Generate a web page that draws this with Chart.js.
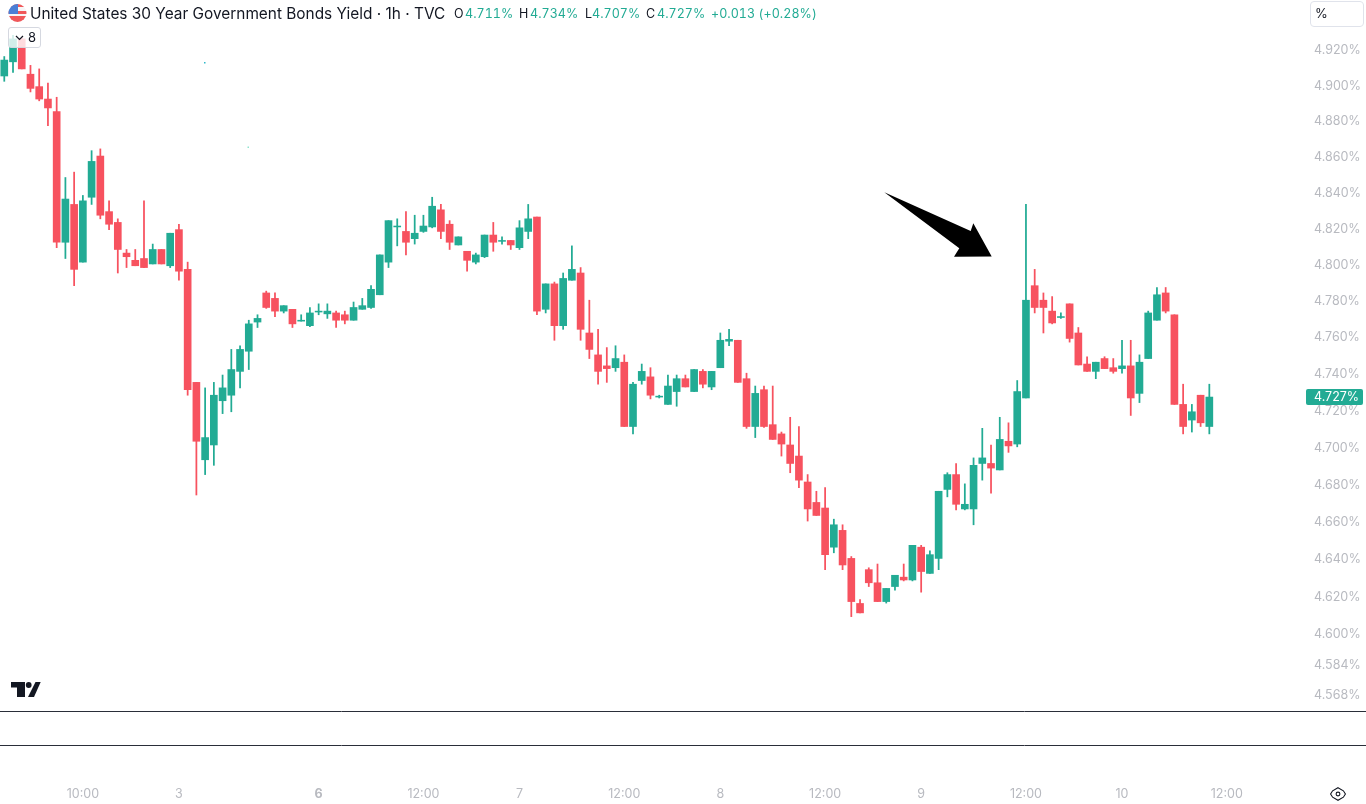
<!DOCTYPE html>
<html>
<head>
<meta charset="utf-8">
<title>US30Y</title>
<script src="https://cdn.jsdelivr.net/npm/chart.js@4/dist/chart.umd.min.js"></script>
<style>
  html, body { margin: 0; padding: 0; background: #fff; overflow: hidden; }
  #wrap { position: relative; width: 1366px; height: 804px; font-family: Inter, "Noto Sans", sans-serif; }
  #chart { position: absolute; left: 0; top: 0; }
  .txt { position: absolute; white-space: nowrap; line-height: 18px; }
  .title { left: 30px; top: 5px; font-size: 15.4px; color: #131722; }
  .ohlc { top: 5px; font-size: 12.5px; letter-spacing: 0.05px; color: #22ab94; font-variant-numeric: tabular-nums; }
  .dark { color: #131722; }
  .unit { position: absolute; left: 1310px; top: 1px; width: 52px; height: 24px; border: 1px solid #e0e3eb; border-radius: 4px; }
  .unit span { position: absolute; left: 4px; top: 3px; font-size: 13px; color: #131722; }
  .count { position: absolute; left: 8px; top: 27px; width: 31px; height: 19px; border: 1px solid #d5d8e0; border-radius: 3px; background: rgba(255,255,255,.8); }
  .count span { position: absolute; left: 19px; top: 1px; font-size: 13px; color: #131722; }
  svg.over { position: absolute; left: 0; top: 0; pointer-events: none; }
</style>
</head>
<body>
<div id="wrap">
  <canvas id="chart" width="1366" height="804"></canvas>
  <svg class="over" width="1366" height="804">
    <defs><clipPath id="fc"><circle cx="17.5" cy="13" r="9"/></clipPath></defs>
    <g clip-path="url(#fc)">
      <rect x="8" y="4" width="19" height="18" fill="#f7f7f7"/>
      <rect x="8" y="11" width="19" height="3" fill="#f0585a"/>
      <rect x="8" y="16" width="19" height="3" fill="#f0585a"/>
      <rect x="8" y="19" width="19" height="3" fill="#f0585a"/>
      <rect x="8" y="4" width="19" height="3" fill="#f0585a"/>
      <rect x="8" y="4" width="10" height="10" fill="#4a7fd6"/>
    </g>
    <polygon points="884.3,192.3 970.7,231 973.3,223.3 991.7,256.5 954,256.7 959.3,248.3" fill="#000"/>
    <rect x="204" y="62" width="1.5" height="1.5" fill="#2fb8c9"/>
    <rect x="247.5" y="146.5" width="1.5" height="1.5" fill="#8fe3cf"/>
    <g fill="#131722">
      <path d="M11 682H25V697H17V687.5H11Z"/>
      <circle cx="28.7" cy="685" r="2.9"/>
      <path d="M35.5 682H40.7L34 697H28Z"/>
    </g>
    <g fill="none" stroke="#131722" stroke-width="1.1">
      <path d="M1338 787.7L1343.4 790.8L1345.4 794L1343.4 797.2L1338 800.3L1332.6 797.2L1330.6 794L1332.6 790.8Z"/>
      <circle cx="1338" cy="794" r="1.9"/>
    </g>
  </svg>
  <div class="txt title">United States 30 Year Government Bonds Yield · 1h · TVC</div>
  <div class="txt ohlc dark" style="left:454px">O</div><div class="txt ohlc" style="left:465px">4.711%</div>
  <div class="txt ohlc dark" style="left:519px">H</div><div class="txt ohlc" style="left:530px">4.734%</div>
  <div class="txt ohlc dark" style="left:585px">L</div><div class="txt ohlc" style="left:592px">4.707%</div>
  <div class="txt ohlc dark" style="left:646px">C</div><div class="txt ohlc" style="left:657px">4.727%</div>
  <div class="txt ohlc" style="left:711px">+0.013 (+0.28%)</div>
  <div class="unit"><span>%</span></div>
  <div class="count">
    <svg width="12" height="12" style="position:absolute;left:5px;top:4px"><path d="M2 4L5.5 7.5L9 4" fill="none" stroke="#131722" stroke-width="1.2"/></svg>
    <span>8</span>
  </div>
</div>
<script>
const opens = [4.905,4.913,4.926,4.906,4.899,4.892,4.885,4.812,4.833,4.801,4.837,4.860,4.829,4.823,4.806,4.802,4.803,4.800,4.808,4.799,4.819,4.797,4.735,4.693,4.701,4.725,4.728,4.741,4.752,4.768,
  4.784,4.781,4.774,4.775,4.7685,4.766,4.7735,4.7725,4.773,4.772,4.769,4.775,4.776,4.783,4.801,4.8205,4.818,4.814,4.818,4.8205,4.830,4.822,4.8105,4.807,4.801,4.804,4.816,4.8125,4.813,4.809,
  4.818,4.826,4.775,4.789,4.766,4.791,4.795,4.762,4.750,4.744,4.743,4.746,4.711,4.736,4.738,4.727,4.723,4.730,4.737,4.730,4.741,4.7325,4.743,4.7575,4.758,4.737,4.711,4.731,4.712,4.707,
  4.701,4.695,4.681,4.670,4.667,4.646,4.655,4.640,4.616,4.634,4.627,4.617,4.625,4.630,4.6285,4.646,4.632,4.640,4.677,4.685,4.6665,4.6665,4.691,4.691,4.6875,4.703,4.7015,4.7265,4.788,4.780,
  4.774,4.7705,4.778,4.762,4.745,4.741,4.748,4.743,4.7425,4.744,4.729,4.748,4.769,4.784,4.772,4.723,4.7145,4.728,4.711];
const highs = [4.916,4.928,4.927,4.911,4.909,4.901,4.893,4.848,4.851,4.838,4.863,4.864,4.835,4.825,4.808,4.808,4.835,4.811,4.808,4.817,4.822,4.801,4.735,4.732,4.735,4.739,4.753,4.755,4.769,4.772,
  4.785,4.784,4.777,4.775,4.772,4.776,4.778,4.778,4.774,4.774,4.779,4.781,4.788,4.805,4.824,4.825,4.829,4.827,4.827,4.837,4.833,4.824,4.815,4.807,4.806,4.816,4.823,4.815,4.813,4.824,
  4.833,4.826,4.789,4.790,4.795,4.810,4.798,4.780,4.764,4.754,4.755,4.750,4.735,4.745,4.743,4.728,4.739,4.739,4.739,4.742,4.742,4.741,4.762,4.764,4.758,4.740,4.733,4.733,4.733,4.708,
  4.716,4.711,4.685,4.676,4.678,4.661,4.658,4.641,4.618,4.635,4.637,4.624,4.631,4.637,4.647,4.647,4.644,4.676,4.686,4.691,4.680,4.694,4.710,4.701,4.716,4.713,4.736,4.833,4.797,4.784,
  4.782,4.773,4.778,4.765,4.749,4.746,4.749,4.748,4.758,4.758,4.750,4.774,4.787,4.787,4.772,4.734,4.723,4.728,4.734];
const lows = [4.902,4.907,4.909,4.896,4.891,4.877,4.809,4.803,4.788,4.801,4.833,4.825,4.819,4.795,4.798,4.799,4.798,4.800,4.800,4.798,4.791,4.728,4.674,4.685,4.690,4.718,4.719,4.732,4.742,4.765,
  4.7755,4.771,4.773,4.765,4.7685,4.7655,4.772,4.770,4.765,4.767,4.769,4.775,4.7755,4.783,4.798,4.810,4.805,4.811,4.8175,4.820,4.814,4.808,4.8105,4.796,4.800,4.8035,4.807,4.811,4.808,4.808,
  4.814,4.772,4.773,4.758,4.764,4.791,4.758,4.748,4.734,4.735,4.741,4.711,4.707,4.734,4.726,4.7265,4.723,4.722,4.7325,4.730,4.732,4.731,4.743,4.755,4.735,4.710,4.705,4.7105,4.704,4.695,
  4.686,4.678,4.660,4.663,4.634,4.643,4.634,4.609,4.611,4.625,4.617,4.6162,4.623,4.628,4.628,4.622,4.632,4.634,4.673,4.666,4.666,4.658,4.682,4.675,4.6875,4.697,4.700,4.7265,4.773,4.762,
  4.767,4.770,4.757,4.7445,4.741,4.737,4.7425,4.740,4.740,4.717,4.724,4.748,4.769,4.773,4.723,4.707,4.708,4.711,4.707];
const closes = [4.914,4.926,4.909,4.898,4.892,4.887,4.812,4.836,4.797,4.835,4.857,4.827,4.822,4.808,4.804,4.799,4.798,4.808,4.800,4.817,4.796,4.731,4.703,4.705,4.728,4.732,4.742,4.753,4.767,4.770,
  4.776,4.774,4.777,4.767,4.769,4.773,4.774,4.774,4.769,4.769,4.776,4.777,4.786,4.805,4.824,4.821,4.812,4.817,4.821,4.832,4.818,4.812,4.815,4.802,4.805,4.816,4.812,4.813,4.8105,4.820,
  4.825,4.774,4.789,4.766,4.792,4.797,4.764,4.753,4.741,4.7425,4.748,4.711,4.734,4.741,4.728,4.7275,4.733,4.737,4.7325,4.742,4.734,4.741,4.758,4.7585,4.735,4.711,4.729,4.711,4.704,4.7015,
  4.691,4.682,4.6665,4.663,4.642,4.658,4.6365,4.617,4.611,4.627,4.617,4.624,4.631,4.6285,4.647,4.633,4.642,4.676,4.685,4.669,4.669,4.690,4.694,4.6885,4.704,4.7005,4.730,4.780,4.776,4.776,
  4.7675,4.771,4.759,4.7445,4.741,4.746,4.7425,4.741,4.744,4.7265,4.746,4.773,4.783,4.774,4.723,4.711,4.719,4.713,4.727];

const priceTicks = [4.92,4.90,4.88,4.86,4.84,4.82,4.80,4.78,4.76,4.74,4.72,4.70,4.68,4.66,4.64,4.62,4.60,4.584,4.568];
const timeTickIndex = [9,20,36,48,59,71,82,94,105,117,128,140];
const timeTickLabels = ["10:00","3","6","12:00","7","12:00","8","12:00","9","12:00","10","12:00"];

const UP = "#22ab94", DOWN = "#f7525f", TICK = "#b8bac0";
const candleIndex = opens.map((_, i) => i);
const candleColors = closes.map((c, i) => c >= opens[i] ? UP : DOWN);

const paneLines = {
  id: "paneLines",
  afterDraw(chart) {
    const { ctx, chartArea, width } = chart;
    ctx.save();
    ctx.strokeStyle = "#2a2e39";
    ctx.lineWidth = 1;
    [chartArea.bottom + 0.5, chartArea.bottom + 34.5].forEach(y => {
      ctx.beginPath();
      ctx.moveTo(0, y);
      ctx.lineTo(width, y);
      ctx.stroke();
    });
    ctx.restore();
  }
};

// last price tag sits on the price axis
const lastPriceTag = {
  id: "lastPriceTag",
  afterDraw(chart) {
    const { ctx, scales, chartArea } = chart;
    const last = closes[closes.length - 1];
    const y = scales.y.getPixelForValue(last);
    ctx.save();
    ctx.fillStyle = UP;
    ctx.beginPath();
    ctx.roundRect(chartArea.right, y - 8, 57, 16, 2);
    ctx.fill();
    ctx.fillStyle = "#fff";
    ctx.font = "12.5px Inter";
    ctx.textBaseline = "middle";
    ctx.fillText(last.toFixed(3) + "%", chartArea.right + 8, y + 0.5);
    ctx.restore();
  }
};

new Chart(document.getElementById("chart"), {
  type: "bar",
  data: {
    labels: candleIndex,
    datasets: [{
      label: "wick",
      data: lows.map((l, i) => [l, highs[i]]),
      backgroundColor: candleColors,
      barThickness: 1.1,
      grouped: false,
      order: 2,
    }, {
      label: "body",
      data: opens.map((o, i) => [o, closes[i]]),
      backgroundColor: candleColors,
      barThickness: 7,
      grouped: false,
      order: 1,
    }]
  },
  options: {
    responsive: false,
    animation: false,
    layout: { padding: 0 },
    plugins: { legend: { display: false }, tooltip: { enabled: false } },
    scales: {
      x: {
        type: "linear",
        offset: false,
        min: -0.49,
        max: 149.07,
        grid: { display: false, drawTicks: false },
        border: { display: false },
        afterBuildTicks: (s) => { s.ticks = timeTickIndex.map(v => ({ value: v })); },
        afterFit: (s) => { s.height = 93; s.paddingLeft = 0; s.paddingRight = 0; },
        ticks: {
          autoSkip: false,
          maxRotation: 0,
          padding: 76,
          color: TICK,
          font: (c) => ({ family: "Inter", size: 12.5, weight: c.tick && c.tick.label === "6" ? "700" : "400" }),
          callback: (v) => timeTickLabels[timeTickIndex.indexOf(v)],
        },
      },
      y: {
        type: "logarithmic",
        position: "right",
        min: 4.5592,
        max: 4.9481,
        bounds: "data",
        grid: { display: false, drawTicks: false },
        border: { display: false },
        afterBuildTicks: (s) => { s.ticks = priceTicks.map(v => ({ value: v })); },
        afterFit: (s) => { s.width = 60; s.paddingTop = 0; s.paddingBottom = 0; },
        ticks: {
          autoSkip: false,
          padding: 8,
          labelOffset: 1,
          crossAlign: "near",
          color: TICK,
          font: { family: "Inter", size: 12.5 },
          callback: (v) => v.toFixed(3) + "%",
        },
      },
    },
  },
  plugins: [paneLines, lastPriceTag],
});
</script>
</body>
</html>
